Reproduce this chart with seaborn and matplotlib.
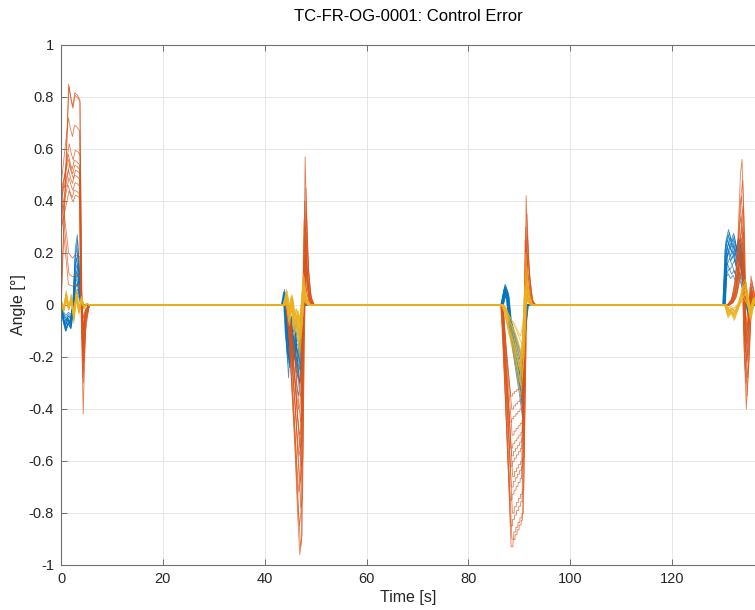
import numpy as np
import pandas as pd
import matplotlib
matplotlib.use("Agg")
import matplotlib.pyplot as plt
import seaborn as sns

# ---------------- data ----------------
TITLE = "TC-FR-OG-0001: Control Error"
XLABEL = "Time [s]"
YLABEL = "Angle [°]"
X_TICKS = [0, 20, 40, 60, 80, 100, 120]
Y_TICKS = [-1, -0.8, -0.6, -0.4, -0.2, 0, 0.2, 0.4, 0.6, 0.8, 1]
Y_TICK_LABELS = ["-1", "-0.8", "-0.6", "-0.4", "-0.2", "0", "0.2", "0.4", "0.6", "0.8", "1"]
SERIES = ["blue", "orange", "yellow"]
COLORS = {"blue": "#0072BD", "orange": "#D95319", "yellow": "#EDB120"}
END_TIME = 140.0
RUN_SHIFT = [0.0, 0.15, -0.1, 0.25, -0.2, 0.05, 0.3, -0.15, 0.1, -0.05, 0.2, -0.25, 0.12, -0.08]
E1_SHIFT = [0.0, 0.05, -0.05, 0.1, -0.1, 0.0, 0.15, -0.05, 0.05, -0.1, 0.1, 0.0, 0.05, -0.05]

# Event 1 (t = 0 .. 6)
E1_BLUE_T = [0.0, 0.4, 0.9, 1.4, 1.9, 2.4, 2.8, 3.2, 3.6, 4.1, 4.7]
E1_BLUE_SP = [0, 0, 0, 0, 0, 0.1, 0.8, 1.0, 0.5, 0, 0]
E1_BLUE_SD = [0, -0.6, -1.0, -0.7, -0.9, -0.2, 0, 0, 0, -0.15, 0]
E1_BLUE_PEAK = [0.27, 0.25, 0.22, 0.20, 0.18, 0.16, 0.15, 0.13, 0.12, 0.10, 0.09, 0.08, 0.06, 0.05]
E1_BLUE_DIP = [0.10, 0.09, 0.08, 0.10, 0.07, 0.06, 0.09, 0.08, 0.05, 0.07, 0.06, 0.10, 0.04, 0.08]

E1_OR_T = [0.0, 1.5, 2.0, 2.3, 2.7, 3.2, 3.7, 3.95, 4.35, 4.8, 5.5]
E1_OR_SP = [0, 1.0, 0.93, 0.9, 0.96, 0.95, 0.93, 0.1, 0, 0, 0]
E1_OR_SD = [0, 0, 0, 0, 0, 0, 0, 0, -1.0, -0.25, 0]
E1_OR_START = [0.0, 0.0, 0.45, 0.42, 0.38, 0.44, 0.36, 0.40, 0.33, 0.45, 0.30, 0.46, 0.43, 0.40]
E1_OR_PEAK = [0.85, 0.84, 0.72, 0.62, 0.58, 0.56, 0.54, 0.52, 0.49, 0.46, 0.44, 0.20, 0.12, 0.08]
E1_OR_DIP = [0.42, 0.30, 0.25, 0.20, 0.18, 0.15, 0.22, 0.12, 0.10, 0.28, 0.08, 0.16, 0.05, 0.10]

E1_YE_T = [0.0, 0.5, 1.0, 1.5, 2.0, 2.5, 3.0, 3.5, 4.0, 4.5, 5.0, 5.6]
E1_YE_SP = [0.3, -0.4, 0.8, -0.3, 0.6, -1.0, 0.9, -0.5, 0.5, -0.2, 0.1, 0]
E1_YE_AMP = [0.07, 0.06, 0.05, 0.045, 0.04, 0.035, 0.05, 0.03, 0.06, 0.025, 0.04, 0.05, 0.02, 0.03]

# Event 2 (t = 43 .. 50)
E2_BLUE_T = [43.5, 43.9, 44.3, 44.7, 45.1, 45.5, 45.9, 46.3, 46.7, 47.1, 47.5, 48.1]
E2_BLUE_SP = [0, 1, 0.3, 0, 0.6, 0, 0, 0, 0, 0, 0.5, 0]
E2_BLUE_SD = [0, 0, -0.5, -0.8, -0.4, -0.7, -0.5, -0.9, -1.0, -0.6, 0, 0]
E2_BLUE_PEAK = [0.06, 0.05, 0.04, 0.03, 0.05, 0.02, 0.04, 0.03, 0.02, 0.05, 0.01, 0.03, 0.04, 0.02]
E2_BLUE_DIP = [0.35, 0.30, 0.28, 0.25, 0.22, 0.20, 0.30, 0.18, 0.15, 0.26, 0.12, 0.24, 0.20, 0.16]

E2_OR_T = [44.3, 44.9, 45.5, 46.0, 46.5, 46.9, 47.2, 47.5, 47.95, 48.4, 48.9, 49.5]
E2_OR_SP = [0, 0, 0, 0, 0, 0, 0, 0, 1.0, 0.35, 0.08, 0]
E2_OR_SD = [0, -0.15, -0.4, -0.6, -0.85, -1.0, -0.95, -0.2, 0, 0, 0, 0]
E2_OR_PEAK = [0.57, 0.45, 0.40, 0.36, 0.33, 0.30, 0.28, 0.26, 0.24, 0.22, 0.20, 0.18, 0.15, 0.12]
E2_OR_DIP = [0.96, 0.93, 0.85, 0.78, 0.72, 0.68, 0.62, 0.58, 0.55, 0.50, 0.45, 0.40, 0.35, 0.30]

E2_YE_T = [43.8, 44.3, 44.8, 45.3, 45.8, 46.3, 46.8, 47.2, 47.6, 48.0, 48.6]
E2_YE_SP = [0, 0.3, -0.4, 0.2, -0.6, -0.3, -1.0, -0.5, 0.6, 0.2, 0]
E2_YE_AMP = [0.20, 0.18, 0.15, 0.12, 0.10, 0.14, 0.08, 0.16, 0.11, 0.06, 0.13, 0.09, 0.07, 0.05]

# Event 3 (t = 86 .. 94)
E3_BLUE_T = [86.6, 87.2, 87.7, 88.2, 88.7, 89.2, 89.7, 90.2, 90.6, 91.0, 91.5]
E3_BLUE_SP = [0, 1, 0.6, 0, 0, 0, 0, 0, 0, 0, 0]
E3_BLUE_SD = [0, 0, 0, -0.25, -0.4, -0.55, -0.7, -0.85, -1.0, -0.3, 0]
E3_BLUE_PEAK = [0.08, 0.075, 0.07, 0.065, 0.06, 0.055, 0.05, 0.06, 0.045, 0.07, 0.04, 0.05, 0.065, 0.035]
E3_BLUE_DIP = [0.43, 0.40, 0.38, 0.35, 0.33, 0.30, 0.28, 0.36, 0.26, 0.32, 0.24, 0.30, 0.22, 0.27]

E3_OR_T = [86.6, 88.4, 88.75, 88.8, 89.15, 89.2, 89.55, 89.6, 89.95, 90.0, 90.35, 90.4, 90.65,
           91.0, 91.35, 91.8, 92.4, 93.0]
E3_OR_SP = [0, 0, 0, 0, 0, 0, 0, 0, 0, 0, 0, 0, 0, 0, 1.0, 0.4, 0.06, 0]
E3_OR_SD = [0, -1.0, -1.0, -0.97, -0.97, -0.95, -0.95, -0.93, -0.93, -0.91, -0.91, -0.89, -0.89,
            -0.3, 0, 0, 0, 0]
E3_OR_PEAK = [0.42, 0.35, 0.30, 0.27, 0.25, 0.22, 0.20, 0.18, 0.16, 0.14, 0.12, 0.10, 0.08, 0.06]
E3_OR_DIP = [0.93, 0.90, 0.85, 0.80, 0.75, 0.70, 0.66, 0.62, 0.58, 0.55, 0.50, 0.45, 0.40, 0.35]

E3_YE_T = [86.7, 87.3, 87.9, 88.5, 89.1, 89.7, 90.3, 90.8, 91.3, 91.8, 92.4]
E3_YE_SP = [0, 0, 0, 0, 0, 0, 0, 0, 1, 0.3, 0]
E3_YE_SD = [0, -0.1, -0.3, -0.45, -0.6, -0.8, -1.0, -0.6, 0, 0, 0]
E3_YE_PEAK = [0.20, 0.15, 0.12, 0.10, 0.08, 0.06, 0.10, 0.05, 0.07, 0.04, 0.09, 0.05, 0.03, 0.06]
E3_YE_DIP = [0.35, 0.32, 0.30, 0.28, 0.25, 0.22, 0.20, 0.30, 0.18, 0.26, 0.15, 0.24, 0.20, 0.12]

# Event 4 (t = 130 .. 137)
E4_BLUE_T = [130.2, 130.6, 131.1, 131.6, 132.1, 132.6, 133.1, 133.6, 134.1, 134.6, 135.1, 135.6, 136.2]
E4_BLUE_SP = [0, 0.85, 1.0, 0.85, 0.95, 0.75, 0.9, 0.7, 0.4, 0.1, -0.15, 0.1, 0]
E4_BLUE_PEAK = [0.29, 0.28, 0.27, 0.26, 0.25, 0.24, 0.23, 0.22, 0.21, 0.20, 0.18, 0.16, 0.14, 0.12]

E4_OR_T = [131.0, 131.8, 132.5, 133.0, 133.45, 133.75, 134.0, 134.3, 134.6, 135.0, 135.5, 136.0, 136.6]
E4_OR_SP = [0, 0.05, 0.2, 0.5, 0.9, 1.0, 0.7, 0, 0, 0, 0.2, 0.1, 0]
E4_OR_SD = [0, 0, 0, 0, 0, 0, 0, -0.6, -1.0, -0.6, 0, 0, 0]
E4_OR_PEAK = [0.56, 0.48, 0.42, 0.38, 0.34, 0.30, 0.28, 0.26, 0.24, 0.22, 0.20, 0.18, 0.15, 0.12]
E4_OR_DIP = [0.40, 0.35, 0.30, 0.28, 0.25, 0.22, 0.20, 0.18, 0.15, 0.12, 0.10, 0.14, 0.08, 0.06]

E4_YE_T = [130.5, 131.0, 131.6, 132.2, 132.8, 133.4, 133.9, 134.4, 134.9, 135.4, 136.0, 136.6]
E4_YE_SP = [0, -0.5, -0.3, -0.6, -0.2, 0.3, 0.8, 1.0, 0.2, -0.6, 0.3, 0]
E4_YE_AMP = [0.10, 0.09, 0.08, 0.07, 0.06, 0.08, 0.05, 0.07, 0.04, 0.06, 0.05, 0.03, 0.04, 0.02]


# ---------------- assemble long table ----------------
def event(times, sp, peaks, sd=None, dips=None, start=None, shift=RUN_SHIFT):
    """Return per-run list of (t, v) arrays for one event."""
    out = []
    for i, p in enumerate(peaks):
        v = np.asarray(sp, float) * p
        if sd is not None:
            v = v + np.asarray(sd, float) * dips[i]
        if start is not None:
            v[0] = start[i]
        t = np.asarray(times, float) + shift[i]
        out.append((t, v))
    return out


events = {
    "blue": [
        event(E1_BLUE_T, E1_BLUE_SP, E1_BLUE_PEAK, E1_BLUE_SD, E1_BLUE_DIP, shift=E1_SHIFT),
        event(E2_BLUE_T, E2_BLUE_SP, E2_BLUE_PEAK, E2_BLUE_SD, E2_BLUE_DIP),
        event(E3_BLUE_T, E3_BLUE_SP, E3_BLUE_PEAK, E3_BLUE_SD, E3_BLUE_DIP),
        event(E4_BLUE_T, E4_BLUE_SP, E4_BLUE_PEAK),
    ],
    "orange": [
        event(E1_OR_T, E1_OR_SP, E1_OR_PEAK, E1_OR_SD, E1_OR_DIP, E1_OR_START, shift=E1_SHIFT),
        event(E2_OR_T, E2_OR_SP, E2_OR_PEAK, E2_OR_SD, E2_OR_DIP),
        event(E3_OR_T, E3_OR_SP, E3_OR_PEAK, E3_OR_SD, E3_OR_DIP),
        event(E4_OR_T, E4_OR_SP, E4_OR_PEAK, E4_OR_SD, E4_OR_DIP),
    ],
    "yellow": [
        event(E1_YE_T, E1_YE_SP, E1_YE_AMP, shift=E1_SHIFT),
        event(E2_YE_T, E2_YE_SP, E2_YE_AMP),
        event(E3_YE_T, E3_YE_SP, E3_YE_PEAK, E3_YE_SD, E3_YE_DIP),
        event(E4_YE_T, E4_YE_SP, E4_YE_AMP),
    ],
}

rows = []
for s in SERIES:
    n_runs = len(events[s][0])
    for r in range(n_runs):
        ts, vs = [], []
        for ev in events[s]:
            t, v = ev[r]
            ts.extend(t.tolist())
            vs.extend(v.tolist())
        ts.append(END_TIME)
        vs.append(0.0)
        for t, v in zip(ts, vs):
            rows.append({"t": t, "v": v, "series": s, "run": f"{s}{r}"})
df = pd.DataFrame(rows)

# ---------------- plot ----------------
sns.set_theme(style="white")
plt.rcParams["font.family"] = ["Liberation Sans", "DejaVu Sans"]

fig = plt.figure(figsize=(7.55, 6.1), dpi=100)
ax = fig.add_axes([61 / 755, 45 / 610, 1 - 61 / 755, (610 - 90) / 610])

sns.lineplot(data=df, x="t", y="v", hue="series", units="run", estimator=None,
             hue_order=SERIES, palette=COLORS, sort=False, legend=False,
             linewidth=0.6, alpha=0.75, ax=ax)

ax.set_xlim(0, 136.3)
ax.set_ylim(-1, 1)
ax.set_xticks(X_TICKS)
ax.set_yticks(Y_TICKS)
ax.set_yticklabels(Y_TICK_LABELS)
ax.grid(True, color="#e6e6e6", linewidth=0.7)
ax.set_axisbelow(True)
for sp in ax.spines.values():
    sp.set_color("#707070")
    sp.set_linewidth(0.8)
ax.spines["right"].set_visible(False)
ax.tick_params(direction="in", length=4, width=0.7, color="#707070",
               labelcolor="#262626", labelsize=10.5, top=True, right=False,
               left=True, bottom=True, pad=5)
ax.set_xlabel(XLABEL, fontsize=11.5, color="#262626", labelpad=3)
ax.set_ylabel(YLABEL, fontsize=11.5, color="#262626", labelpad=2)
ax.set_title(TITLE, fontsize=12, color="#000000", pad=17)

fig.savefig("out.png", dpi=100)
